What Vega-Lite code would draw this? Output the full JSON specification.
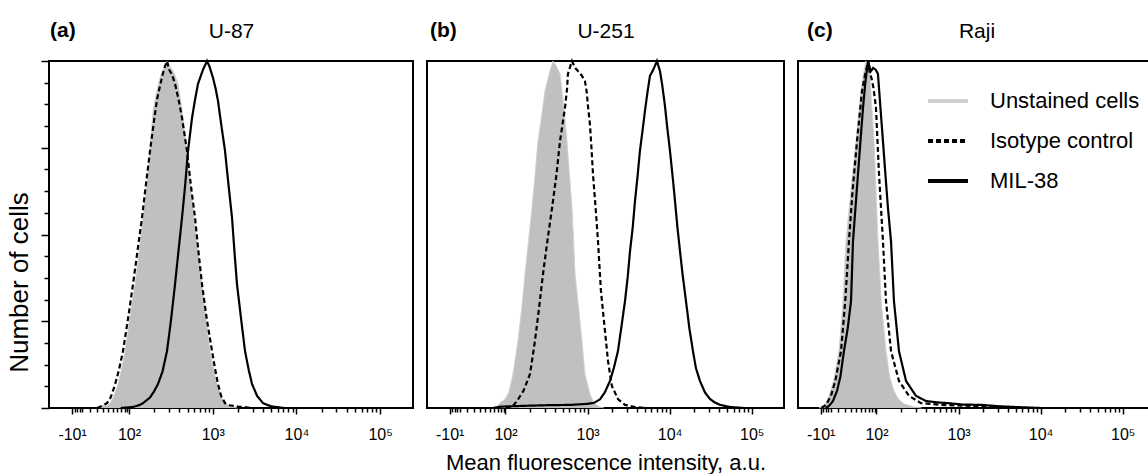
{
  "$schema": "https://vega.github.io/schema/vega-lite/v6.json",
  "background": "white",
  "padding": {"left": 5, "top": 19, "right": 0, "bottom": 0},
  "spacing": 14,
  "bounds": "flush",
  "config": {
    "font": "Liberation Sans",
    "view": {"stroke": "black", "strokeWidth": 2},
    "axis": {"grid": false, "domain": false, "labelFont": "Liberation Sans", "titleFont": "Liberation Sans", "labelColor": "black", "titleColor": "black", "tickColor": "black", "titleFontWeight": "normal"},
    "title": {"color": "black", "font": "Liberation Sans"}
  },
  "datasets": {
    "hist": [
      {"panel":"U-87","series":"Unstained cells","x":1.63,"y":0},
      {"panel":"U-87","series":"Unstained cells","x":1.654,"y":0.4},
      {"panel":"U-87","series":"Unstained cells","x":1.70,"y":0.9},
      {"panel":"U-87","series":"Unstained cells","x":1.74,"y":0.7},
      {"panel":"U-87","series":"Unstained cells","x":1.773,"y":1.3},
      {"panel":"U-87","series":"Unstained cells","x":1.82,"y":3.5},
      {"panel":"U-87","series":"Unstained cells","x":1.869,"y":6.9},
      {"panel":"U-87","series":"Unstained cells","x":1.91,"y":11},
      {"panel":"U-87","series":"Unstained cells","x":1.952,"y":16.4},
      {"panel":"U-87","series":"Unstained cells","x":2.01,"y":26},
      {"panel":"U-87","series":"Unstained cells","x":2.072,"y":35.7},
      {"panel":"U-87","series":"Unstained cells","x":2.12,"y":45},
      {"panel":"U-87","series":"Unstained cells","x":2.167,"y":54.8},
      {"panel":"U-87","series":"Unstained cells","x":2.21,"y":64},
      {"panel":"U-87","series":"Unstained cells","x":2.251,"y":74.1},
      {"panel":"U-87","series":"Unstained cells","x":2.287,"y":85.6},
      {"panel":"U-87","series":"Unstained cells","x":2.33,"y":91},
      {"panel":"U-87","series":"Unstained cells","x":2.37,"y":95.1},
      {"panel":"U-87","series":"Unstained cells","x":2.41,"y":97.5},
      {"panel":"U-87","series":"Unstained cells","x":2.454,"y":100},
      {"panel":"U-87","series":"Unstained cells","x":2.50,"y":98},
      {"panel":"U-87","series":"Unstained cells","x":2.54,"y":96.5},
      {"panel":"U-87","series":"Unstained cells","x":2.585,"y":93.4},
      {"panel":"U-87","series":"Unstained cells","x":2.645,"y":83.6},
      {"panel":"U-87","series":"Unstained cells","x":2.693,"y":74.1},
      {"panel":"U-87","series":"Unstained cells","x":2.735,"y":64},
      {"panel":"U-87","series":"Unstained cells","x":2.777,"y":54.8},
      {"panel":"U-87","series":"Unstained cells","x":2.825,"y":45},
      {"panel":"U-87","series":"Unstained cells","x":2.872,"y":35.7},
      {"panel":"U-87","series":"Unstained cells","x":2.92,"y":25.5},
      {"panel":"U-87","series":"Unstained cells","x":2.968,"y":16.4},
      {"panel":"U-87","series":"Unstained cells","x":3.01,"y":11},
      {"panel":"U-87","series":"Unstained cells","x":3.051,"y":6.9},
      {"panel":"U-87","series":"Unstained cells","x":3.10,"y":3.5},
      {"panel":"U-87","series":"Unstained cells","x":3.147,"y":1.4},
      {"panel":"U-87","series":"Unstained cells","x":3.21,"y":0.4},
      {"panel":"U-87","series":"Unstained cells","x":3.30,"y":0},

      {"panel":"U-87","series":"Isotype control","x":1.62,"y":0},
      {"panel":"U-87","series":"Isotype control","x":1.677,"y":0.6},
      {"panel":"U-87","series":"Isotype control","x":1.737,"y":1.4},
      {"panel":"U-87","series":"Isotype control","x":1.78,"y":3},
      {"panel":"U-87","series":"Isotype control","x":1.83,"y":6.5},
      {"panel":"U-87","series":"Isotype control","x":1.88,"y":11},
      {"panel":"U-87","series":"Isotype control","x":1.928,"y":16.4},
      {"panel":"U-87","series":"Isotype control","x":1.99,"y":26},
      {"panel":"U-87","series":"Isotype control","x":2.048,"y":35.7},
      {"panel":"U-87","series":"Isotype control","x":2.10,"y":45},
      {"panel":"U-87","series":"Isotype control","x":2.155,"y":54.8},
      {"panel":"U-87","series":"Isotype control","x":2.20,"y":64},
      {"panel":"U-87","series":"Isotype control","x":2.251,"y":74.1},
      {"panel":"U-87","series":"Isotype control","x":2.30,"y":83},
      {"panel":"U-87","series":"Isotype control","x":2.335,"y":89},
      {"panel":"U-87","series":"Isotype control","x":2.40,"y":96},
      {"panel":"U-87","series":"Isotype control","x":2.43,"y":98.5},
      {"panel":"U-87","series":"Isotype control","x":2.454,"y":100},
      {"panel":"U-87","series":"Isotype control","x":2.48,"y":97.5},
      {"panel":"U-87","series":"Isotype control","x":2.515,"y":96},
      {"panel":"U-87","series":"Isotype control","x":2.55,"y":93.4},
      {"panel":"U-87","series":"Isotype control","x":2.60,"y":88},
      {"panel":"U-87","series":"Isotype control","x":2.633,"y":83.6},
      {"panel":"U-87","series":"Isotype control","x":2.693,"y":74.1},
      {"panel":"U-87","series":"Isotype control","x":2.74,"y":64},
      {"panel":"U-87","series":"Isotype control","x":2.789,"y":54.8},
      {"panel":"U-87","series":"Isotype control","x":2.83,"y":45},
      {"panel":"U-87","series":"Isotype control","x":2.872,"y":35.7},
      {"panel":"U-87","series":"Isotype control","x":2.93,"y":25.5},
      {"panel":"U-87","series":"Isotype control","x":2.992,"y":16.4},
      {"panel":"U-87","series":"Isotype control","x":3.03,"y":11},
      {"panel":"U-87","series":"Isotype control","x":3.063,"y":6.9},
      {"panel":"U-87","series":"Isotype control","x":3.10,"y":3.5},
      {"panel":"U-87","series":"Isotype control","x":3.147,"y":1.4},
      {"panel":"U-87","series":"Isotype control","x":3.20,"y":0.8},
      {"panel":"U-87","series":"Isotype control","x":3.25,"y":0.6},
      {"panel":"U-87","series":"Isotype control","x":3.30,"y":0.4},
      {"panel":"U-87","series":"Isotype control","x":3.36,"y":0.3},
      {"panel":"U-87","series":"Isotype control","x":3.45,"y":0},

      {"panel":"U-87","series":"MIL-38","x":1.90,"y":0},
      {"panel":"U-87","series":"MIL-38","x":2.05,"y":0.3},
      {"panel":"U-87","series":"MIL-38","x":2.12,"y":0.8},
      {"panel":"U-87","series":"MIL-38","x":2.167,"y":1.4},
      {"panel":"U-87","series":"MIL-38","x":2.25,"y":3},
      {"panel":"U-87","series":"MIL-38","x":2.30,"y":4.8},
      {"panel":"U-87","series":"MIL-38","x":2.346,"y":6.9},
      {"panel":"U-87","series":"MIL-38","x":2.40,"y":10.5},
      {"panel":"U-87","series":"MIL-38","x":2.454,"y":16.4},
      {"panel":"U-87","series":"MIL-38","x":2.50,"y":25},
      {"panel":"U-87","series":"MIL-38","x":2.55,"y":35.7},
      {"panel":"U-87","series":"MIL-38","x":2.59,"y":45},
      {"panel":"U-87","series":"MIL-38","x":2.633,"y":54.8},
      {"panel":"U-87","series":"MIL-38","x":2.67,"y":64},
      {"panel":"U-87","series":"MIL-38","x":2.705,"y":74.1},
      {"panel":"U-87","series":"MIL-38","x":2.753,"y":83.6},
      {"panel":"U-87","series":"MIL-38","x":2.79,"y":89},
      {"panel":"U-87","series":"MIL-38","x":2.824,"y":93.4},
      {"panel":"U-87","series":"MIL-38","x":2.884,"y":97.5},
      {"panel":"U-87","series":"MIL-38","x":2.932,"y":100},
      {"panel":"U-87","series":"MIL-38","x":2.96,"y":98.5},
      {"panel":"U-87","series":"MIL-38","x":3.004,"y":95.1},
      {"panel":"U-87","series":"MIL-38","x":3.035,"y":92},
      {"panel":"U-87","series":"MIL-38","x":3.063,"y":88.5},
      {"panel":"U-87","series":"MIL-38","x":3.10,"y":82},
      {"panel":"U-87","series":"MIL-38","x":3.147,"y":74.1},
      {"panel":"U-87","series":"MIL-38","x":3.19,"y":64},
      {"panel":"U-87","series":"MIL-38","x":3.231,"y":54.8},
      {"panel":"U-87","series":"MIL-38","x":3.26,"y":45},
      {"panel":"U-87","series":"MIL-38","x":3.29,"y":35.7},
      {"panel":"U-87","series":"MIL-38","x":3.34,"y":25.5},
      {"panel":"U-87","series":"MIL-38","x":3.386,"y":16.4},
      {"panel":"U-87","series":"MIL-38","x":3.43,"y":11},
      {"panel":"U-87","series":"MIL-38","x":3.47,"y":6.9},
      {"panel":"U-87","series":"MIL-38","x":3.53,"y":3.5},
      {"panel":"U-87","series":"MIL-38","x":3.601,"y":1.4},
      {"panel":"U-87","series":"MIL-38","x":3.66,"y":0.8},
      {"panel":"U-87","series":"MIL-38","x":3.72,"y":0.4},
      {"panel":"U-87","series":"MIL-38","x":3.85,"y":0},

      {"panel":"U-251","series":"Unstained cells","x":1.85,"y":0},
      {"panel":"U-251","series":"Unstained cells","x":1.897,"y":0.5},
      {"panel":"U-251","series":"Unstained cells","x":1.933,"y":1.5},
      {"panel":"U-251","series":"Unstained cells","x":1.994,"y":2.5},
      {"panel":"U-251","series":"Unstained cells","x":2.04,"y":4.5},
      {"panel":"U-251","series":"Unstained cells","x":2.092,"y":9.8},
      {"panel":"U-251","series":"Unstained cells","x":2.152,"y":19.3},
      {"panel":"U-251","series":"Unstained cells","x":2.20,"y":29},
      {"panel":"U-251","series":"Unstained cells","x":2.238,"y":38.6},
      {"panel":"U-251","series":"Unstained cells","x":2.28,"y":48},
      {"panel":"U-251","series":"Unstained cells","x":2.323,"y":57.6},
      {"panel":"U-251","series":"Unstained cells","x":2.36,"y":67},
      {"panel":"U-251","series":"Unstained cells","x":2.396,"y":76.9},
      {"panel":"U-251","series":"Unstained cells","x":2.44,"y":84},
      {"panel":"U-251","series":"Unstained cells","x":2.481,"y":91.4},
      {"panel":"U-251","series":"Unstained cells","x":2.542,"y":97.1},
      {"panel":"U-251","series":"Unstained cells","x":2.579,"y":100},
      {"panel":"U-251","series":"Unstained cells","x":2.62,"y":98.5},
      {"panel":"U-251","series":"Unstained cells","x":2.664,"y":96.3},
      {"panel":"U-251","series":"Unstained cells","x":2.71,"y":87},
      {"panel":"U-251","series":"Unstained cells","x":2.749,"y":76.9},
      {"panel":"U-251","series":"Unstained cells","x":2.78,"y":67},
      {"panel":"U-251","series":"Unstained cells","x":2.81,"y":57.6},
      {"panel":"U-251","series":"Unstained cells","x":2.83,"y":48},
      {"panel":"U-251","series":"Unstained cells","x":2.847,"y":38.6},
      {"panel":"U-251","series":"Unstained cells","x":2.89,"y":29},
      {"panel":"U-251","series":"Unstained cells","x":2.932,"y":19.3},
      {"panel":"U-251","series":"Unstained cells","x":2.968,"y":9.8},
      {"panel":"U-251","series":"Unstained cells","x":3.029,"y":4.0},
      {"panel":"U-251","series":"Unstained cells","x":3.078,"y":1.4},
      {"panel":"U-251","series":"Unstained cells","x":3.151,"y":0.3},
      {"panel":"U-251","series":"Unstained cells","x":3.20,"y":0},

      {"panel":"U-251","series":"Isotype control","x":2.0,"y":0},
      {"panel":"U-251","series":"Isotype control","x":2.06,"y":0.3},
      {"panel":"U-251","series":"Isotype control","x":2.092,"y":0.6},
      {"panel":"U-251","series":"Isotype control","x":2.14,"y":2.0},
      {"panel":"U-251","series":"Isotype control","x":2.22,"y":5},
      {"panel":"U-251","series":"Isotype control","x":2.299,"y":9.8},
      {"panel":"U-251","series":"Isotype control","x":2.359,"y":19.3},
      {"panel":"U-251","series":"Isotype control","x":2.41,"y":29},
      {"panel":"U-251","series":"Isotype control","x":2.457,"y":38.6},
      {"panel":"U-251","series":"Isotype control","x":2.51,"y":48},
      {"panel":"U-251","series":"Isotype control","x":2.567,"y":57.6},
      {"panel":"U-251","series":"Isotype control","x":2.62,"y":67},
      {"panel":"U-251","series":"Isotype control","x":2.664,"y":76.9},
      {"panel":"U-251","series":"Isotype control","x":2.725,"y":86.5},
      {"panel":"U-251","series":"Isotype control","x":2.75,"y":92},
      {"panel":"U-251","series":"Isotype control","x":2.761,"y":96.3},
      {"panel":"U-251","series":"Isotype control","x":2.79,"y":98.5},
      {"panel":"U-251","series":"Isotype control","x":2.81,"y":100},
      {"panel":"U-251","series":"Isotype control","x":2.85,"y":98},
      {"panel":"U-251","series":"Isotype control","x":2.883,"y":97.1},
      {"panel":"U-251","series":"Isotype control","x":2.932,"y":95.7},
      {"panel":"U-251","series":"Isotype control","x":2.968,"y":94.2},
      {"panel":"U-251","series":"Isotype control","x":2.99,"y":91},
      {"panel":"U-251","series":"Isotype control","x":3.005,"y":87.0},
      {"panel":"U-251","series":"Isotype control","x":3.029,"y":81.8},
      {"panel":"U-251","series":"Isotype control","x":3.05,"y":74},
      {"panel":"U-251","series":"Isotype control","x":3.066,"y":67.4},
      {"panel":"U-251","series":"Isotype control","x":3.10,"y":57},
      {"panel":"U-251","series":"Isotype control","x":3.127,"y":48.1},
      {"panel":"U-251","series":"Isotype control","x":3.163,"y":33.7},
      {"panel":"U-251","series":"Isotype control","x":3.212,"y":22.2},
      {"panel":"U-251","series":"Isotype control","x":3.249,"y":13.5},
      {"panel":"U-251","series":"Isotype control","x":3.297,"y":6.3},
      {"panel":"U-251","series":"Isotype control","x":3.37,"y":2.6},
      {"panel":"U-251","series":"Isotype control","x":3.456,"y":0.9},
      {"panel":"U-251","series":"Isotype control","x":3.578,"y":0.3},
      {"panel":"U-251","series":"Isotype control","x":3.70,"y":0},

      {"panel":"U-251","series":"MIL-38","x":1.85,"y":0},
      {"panel":"U-251","series":"MIL-38","x":1.95,"y":0.4},
      {"panel":"U-251","series":"MIL-38","x":2.2,"y":0.6},
      {"panel":"U-251","series":"MIL-38","x":2.5,"y":0.8},
      {"panel":"U-251","series":"MIL-38","x":2.8,"y":0.9},
      {"panel":"U-251","series":"MIL-38","x":3.0,"y":1.2},
      {"panel":"U-251","series":"MIL-38","x":3.08,"y":1.5},
      {"panel":"U-251","series":"MIL-38","x":3.151,"y":2.5},
      {"panel":"U-251","series":"MIL-38","x":3.21,"y":4.5},
      {"panel":"U-251","series":"MIL-38","x":3.273,"y":7.8},
      {"panel":"U-251","series":"MIL-38","x":3.32,"y":11.5},
      {"panel":"U-251","series":"MIL-38","x":3.37,"y":16.4},
      {"panel":"U-251","series":"MIL-38","x":3.41,"y":23},
      {"panel":"U-251","series":"MIL-38","x":3.456,"y":30.8},
      {"panel":"U-251","series":"MIL-38","x":3.49,"y":38},
      {"panel":"U-251","series":"MIL-38","x":3.517,"y":45.2},
      {"panel":"U-251","series":"MIL-38","x":3.55,"y":52},
      {"panel":"U-251","series":"MIL-38","x":3.578,"y":59.7},
      {"panel":"U-251","series":"MIL-38","x":3.61,"y":67},
      {"panel":"U-251","series":"MIL-38","x":3.638,"y":74.1},
      {"panel":"U-251","series":"MIL-38","x":3.67,"y":80},
      {"panel":"U-251","series":"MIL-38","x":3.699,"y":85.6},
      {"panel":"U-251","series":"MIL-38","x":3.73,"y":91},
      {"panel":"U-251","series":"MIL-38","x":3.76,"y":95.7},
      {"panel":"U-251","series":"MIL-38","x":3.80,"y":97.5},
      {"panel":"U-251","series":"MIL-38","x":3.821,"y":98.6},
      {"panel":"U-251","series":"MIL-38","x":3.845,"y":100},
      {"panel":"U-251","series":"MIL-38","x":3.882,"y":97.1},
      {"panel":"U-251","series":"MIL-38","x":3.91,"y":93},
      {"panel":"U-251","series":"MIL-38","x":3.943,"y":87.0},
      {"panel":"U-251","series":"MIL-38","x":3.97,"y":81},
      {"panel":"U-251","series":"MIL-38","x":4.004,"y":74.1},
      {"panel":"U-251","series":"MIL-38","x":4.035,"y":67},
      {"panel":"U-251","series":"MIL-38","x":4.065,"y":59.7},
      {"panel":"U-251","series":"MIL-38","x":4.095,"y":52},
      {"panel":"U-251","series":"MIL-38","x":4.126,"y":45.2},
      {"panel":"U-251","series":"MIL-38","x":4.16,"y":38},
      {"panel":"U-251","series":"MIL-38","x":4.199,"y":30.8},
      {"panel":"U-251","series":"MIL-38","x":4.24,"y":23},
      {"panel":"U-251","series":"MIL-38","x":4.284,"y":16.4},
      {"panel":"U-251","series":"MIL-38","x":4.32,"y":11.5},
      {"panel":"U-251","series":"MIL-38","x":4.369,"y":7.8},
      {"panel":"U-251","series":"MIL-38","x":4.43,"y":4.5},
      {"panel":"U-251","series":"MIL-38","x":4.491,"y":2.6},
      {"panel":"U-251","series":"MIL-38","x":4.55,"y":1.6},
      {"panel":"U-251","series":"MIL-38","x":4.613,"y":0.9},
      {"panel":"U-251","series":"MIL-38","x":4.735,"y":0.3},
      {"panel":"U-251","series":"MIL-38","x":4.90,"y":0},

      {"panel":"Raji","series":"Unstained cells","x":1.30,"y":0},
      {"panel":"Raji","series":"Unstained cells","x":1.349,"y":0.6},
      {"panel":"Raji","series":"Unstained cells","x":1.385,"y":1.5},
      {"panel":"Raji","series":"Unstained cells","x":1.422,"y":3.5},
      {"panel":"Raji","series":"Unstained cells","x":1.48,"y":8},
      {"panel":"Raji","series":"Unstained cells","x":1.543,"y":16.4},
      {"panel":"Raji","series":"Unstained cells","x":1.59,"y":30},
      {"panel":"Raji","series":"Unstained cells","x":1.629,"y":48.1},
      {"panel":"Raji","series":"Unstained cells","x":1.69,"y":63},
      {"panel":"Raji","series":"Unstained cells","x":1.751,"y":76.9},
      {"panel":"Raji","series":"Unstained cells","x":1.811,"y":91.4},
      {"panel":"Raji","series":"Unstained cells","x":1.84,"y":96},
      {"panel":"Raji","series":"Unstained cells","x":1.872,"y":100},
      {"panel":"Raji","series":"Unstained cells","x":1.90,"y":98},
      {"panel":"Raji","series":"Unstained cells","x":1.921,"y":96},
      {"panel":"Raji","series":"Unstained cells","x":1.945,"y":86},
      {"panel":"Raji","series":"Unstained cells","x":1.97,"y":76.9},
      {"panel":"Raji","series":"Unstained cells","x":1.995,"y":62},
      {"panel":"Raji","series":"Unstained cells","x":2.018,"y":48.1},
      {"panel":"Raji","series":"Unstained cells","x":2.06,"y":30},
      {"panel":"Raji","series":"Unstained cells","x":2.116,"y":16.4},
      {"panel":"Raji","series":"Unstained cells","x":2.16,"y":9},
      {"panel":"Raji","series":"Unstained cells","x":2.213,"y":4.9},
      {"panel":"Raji","series":"Unstained cells","x":2.27,"y":2.5},
      {"panel":"Raji","series":"Unstained cells","x":2.335,"y":1.2},
      {"panel":"Raji","series":"Unstained cells","x":2.457,"y":0.3},
      {"panel":"Raji","series":"Unstained cells","x":2.55,"y":0},

      {"panel":"Raji","series":"Isotype control","x":1.33,"y":0},
      {"panel":"Raji","series":"Isotype control","x":1.385,"y":0.9},
      {"panel":"Raji","series":"Isotype control","x":1.446,"y":3.5},
      {"panel":"Raji","series":"Isotype control","x":1.50,"y":8},
      {"panel":"Raji","series":"Isotype control","x":1.568,"y":16.4},
      {"panel":"Raji","series":"Isotype control","x":1.62,"y":31},
      {"panel":"Raji","series":"Isotype control","x":1.665,"y":48.1},
      {"panel":"Raji","series":"Isotype control","x":1.71,"y":63},
      {"panel":"Raji","series":"Isotype control","x":1.763,"y":76.9},
      {"panel":"Raji","series":"Isotype control","x":1.824,"y":91.4},
      {"panel":"Raji","series":"Isotype control","x":1.86,"y":96},
      {"panel":"Raji","series":"Isotype control","x":1.88,"y":98},
      {"panel":"Raji","series":"Isotype control","x":1.897,"y":100},
      {"panel":"Raji","series":"Isotype control","x":1.915,"y":97},
      {"panel":"Raji","series":"Isotype control","x":1.94,"y":95},
      {"panel":"Raji","series":"Isotype control","x":1.965,"y":92},
      {"panel":"Raji","series":"Isotype control","x":1.994,"y":86.5},
      {"panel":"Raji","series":"Isotype control","x":2.031,"y":67.4},
      {"panel":"Raji","series":"Isotype control","x":2.079,"y":48.1},
      {"panel":"Raji","series":"Isotype control","x":2.116,"y":30.8},
      {"panel":"Raji","series":"Isotype control","x":2.177,"y":16.4},
      {"panel":"Raji","series":"Isotype control","x":2.274,"y":7.8},
      {"panel":"Raji","series":"Isotype control","x":2.396,"y":3.5},
      {"panel":"Raji","series":"Isotype control","x":2.542,"y":1.4},
      {"panel":"Raji","series":"Isotype control","x":2.786,"y":0.9},
      {"panel":"Raji","series":"Isotype control","x":3.15,"y":0.6},
      {"panel":"Raji","series":"Isotype control","x":3.52,"y":0.3},
      {"panel":"Raji","series":"Isotype control","x":3.80,"y":0},

      {"panel":"Raji","series":"MIL-38","x":1.38,"y":0},
      {"panel":"Raji","series":"MIL-38","x":1.422,"y":0.6},
      {"panel":"Raji","series":"MIL-38","x":1.47,"y":2},
      {"panel":"Raji","series":"MIL-38","x":1.519,"y":4.9},
      {"panel":"Raji","series":"MIL-38","x":1.56,"y":9},
      {"panel":"Raji","series":"MIL-38","x":1.604,"y":16.4},
      {"panel":"Raji","series":"MIL-38","x":1.65,"y":23},
      {"panel":"Raji","series":"MIL-38","x":1.69,"y":30.8},
      {"panel":"Raji","series":"MIL-38","x":1.714,"y":48.1},
      {"panel":"Raji","series":"MIL-38","x":1.745,"y":58},
      {"panel":"Raji","series":"MIL-38","x":1.775,"y":67.4},
      {"panel":"Raji","series":"MIL-38","x":1.805,"y":77},
      {"panel":"Raji","series":"MIL-38","x":1.836,"y":86.5},
      {"panel":"Raji","series":"MIL-38","x":1.865,"y":94},
      {"panel":"Raji","series":"MIL-38","x":1.897,"y":100},
      {"panel":"Raji","series":"MIL-38","x":1.93,"y":97},
      {"panel":"Raji","series":"MIL-38","x":1.96,"y":98},
      {"panel":"Raji","series":"MIL-38","x":1.99,"y":97.5},
      {"panel":"Raji","series":"MIL-38","x":2.018,"y":96.3},
      {"panel":"Raji","series":"MIL-38","x":2.05,"y":86},
      {"panel":"Raji","series":"MIL-38","x":2.079,"y":76.9},
      {"panel":"Raji","series":"MIL-38","x":2.11,"y":67},
      {"panel":"Raji","series":"MIL-38","x":2.14,"y":57.6},
      {"panel":"Raji","series":"MIL-38","x":2.177,"y":48.1},
      {"panel":"Raji","series":"MIL-38","x":2.213,"y":30.8},
      {"panel":"Raji","series":"MIL-38","x":2.274,"y":16.4},
      {"panel":"Raji","series":"MIL-38","x":2.36,"y":7.8},
      {"panel":"Raji","series":"MIL-38","x":2.481,"y":3.5},
      {"panel":"Raji","series":"MIL-38","x":2.603,"y":2.0},
      {"panel":"Raji","series":"MIL-38","x":2.75,"y":1.6},
      {"panel":"Raji","series":"MIL-38","x":2.871,"y":1.4},
      {"panel":"Raji","series":"MIL-38","x":3.05,"y":1.0},
      {"panel":"Raji","series":"MIL-38","x":3.273,"y":0.9},
      {"panel":"Raji","series":"MIL-38","x":3.5,"y":0.5},
      {"panel":"Raji","series":"MIL-38","x":3.675,"y":0.3},
      {"panel":"Raji","series":"MIL-38","x":4.0,"y":0}
    ]
  },
  "hconcat": [
    {
      "width": 364, "height": 347,
      "title": {"text": "(a)", "anchor": "start", "frame": "group", "fontWeight": "bold", "fontSize": 21, "baseline": "alphabetic", "offset": -38, "dx": 1},
      "layer": [
        {
          "data": {"name": "hist"},
          "transform": [{"filter": "datum.panel == 'U-87' && datum.series == 'Unstained cells'"}],
          "mark": {"type": "area", "color": "#c0c0c0", "opacity": 1},
          "encoding": {
            "x": {"field": "x", "type": "quantitative", "scale": {"domain": [1.044, 5.393], "nice": false, "zero": false},
                  "axis": {"title": null, "values": [1.32,1.35,1.38,1.41,1.44,1.53,1.62,1.69,1.75,1.81,1.86,1.91,1.95,1.98,2,2.301,2.477,2.602,2.699,2.778,2.845,2.903,2.954,3,3.301,3.477,3.602,3.699,3.778,3.845,3.903,3.954,4,4.301,4.477,4.602,4.699,4.778,4.845,4.903,4.954,5],
                           "labelExpr": "datum.value == 1.32 ? '-10¹' : datum.value == 2 ? '10²' : datum.value == 3 ? '10³' : datum.value == 4 ? '10⁴' : datum.value == 5 ? '10⁵' : ''",
                           "labelFontSize": 16, "labelPadding": 12, "labelOverlap": false, "labelFlush": false,
                           "tickSize": {"condition": {"test": "indexof([1.32,2,3,4,5], datum.value) >= 0", "value": 6}, "value": 4}, "tickWidth": 1.5}},
            "y": {"field": "y", "type": "quantitative", "scale": {"domain": [0, 100], "nice": false},
                  "axis": {"values": [0,6.25,12.5,18.75,25,31.25,37.5,43.75,50,56.25,62.5,68.75,75,81.25,87.5,93.75,100], "labels": false, "title": "Number of cells", "titleFontSize": 26, "titlePadding": 8, "titleY": 221, "titleAlign": "center",
                           "tickSize": {"condition": {"test": "datum.value % 25 == 0", "value": 8}, "value": 5}, "tickWidth": 1.5}}
          }
        },
        {
          "data": {"name": "hist"},
          "transform": [{"filter": "datum.panel == 'U-87' && datum.series == 'Unstained cells'"}],
          "mark": {"type": "line", "strokeWidth": 1},
          "encoding": {
            "x": {"field": "x", "type": "quantitative", "scale": {"domain": [1.044, 5.393], "nice": false, "zero": false},
                  "axis": {"orient": "top", "title": "U-87", "titleFontSize": 21, "titlePadding": 24, "titleBaseline": "alphabetic", "ticks": false, "labels": false, "domain": false}},
            "y": {"field": "y", "type": "quantitative", "scale": {"domain": [0, 100], "nice": false},
                  "axis": {"values": [0,6.25,12.5,18.75,25,31.25,37.5,43.75,50,56.25,62.5,68.75,75,81.25,87.5,93.75,100], "labels": false, "title": "Number of cells", "titleFontSize": 26, "titlePadding": 8, "titleY": 221, "titleAlign": "center",
                           "tickSize": {"condition": {"test": "datum.value % 25 == 0", "value": 8}, "value": 5}, "tickWidth": 1.5}},
            "color": {"field": "series", "type": "nominal", "scale": {"domain": ["Unstained cells","Isotype control","MIL-38"], "range": ["#d0d0d0","#000000","#000000"]}, "legend": null},
            "strokeDash": {"field": "series", "type": "nominal", "scale": {"domain": ["Unstained cells","Isotype control","MIL-38"], "range": [[1,0],[5,3],[1,0]]}, "legend": null}
          }
        },
        {
          "data": {"name": "hist"},
          "transform": [{"filter": "datum.panel == 'U-87' && datum.series != 'Unstained cells'"}],
          "mark": {"type": "line", "strokeWidth": 2.2},
          "encoding": {
            "x": {"field": "x", "type": "quantitative", "scale": {"domain": [1.044, 5.393], "nice": false, "zero": false}, "axis": null},
            "y": {"field": "y", "type": "quantitative", "scale": {"domain": [0, 100], "nice": false},
                  "axis": {"values": [0,6.25,12.5,18.75,25,31.25,37.5,43.75,50,56.25,62.5,68.75,75,81.25,87.5,93.75,100], "labels": false, "title": "Number of cells", "titleFontSize": 26, "titlePadding": 8, "titleY": 221, "titleAlign": "center",
                           "tickSize": {"condition": {"test": "datum.value % 25 == 0", "value": 8}, "value": 5}, "tickWidth": 1.5}},
            "color": {"field": "series", "type": "nominal", "scale": {"domain": ["Unstained cells","Isotype control","MIL-38"], "range": ["#d0d0d0","#000000","#000000"]}, "legend": null},
            "strokeDash": {"field": "series", "type": "nominal", "scale": {"domain": ["Unstained cells","Isotype control","MIL-38"], "range": [[1,0],[5,3],[1,0]]}, "legend": null}
          }
        }
      ],
      "resolve": {"axis": {"x": "independent"}}
    },
    {
      "width": 357, "height": 347,
      "title": {"text": "(b)", "anchor": "start", "frame": "group", "fontWeight": "bold", "fontSize": 21, "baseline": "alphabetic", "offset": -38, "dx": 3},
      "layer": [
        {
          "data": {"name": "hist"},
          "transform": [{"filter": "datum.panel == 'U-251' && datum.series == 'Unstained cells'"}],
          "mark": {"type": "area", "color": "#c0c0c0", "opacity": 1},
          "encoding": {
            "x": {"field": "x", "type": "quantitative", "scale": {"domain": [1.044, 5.393], "nice": false, "zero": false},
                  "axis": {"title": "Mean fluorescence intensity, a.u.", "titleFontSize": 22, "titlePadding": 10, "values": [1.32,1.35,1.38,1.41,1.44,1.53,1.62,1.69,1.75,1.81,1.86,1.91,1.95,1.98,2,2.301,2.477,2.602,2.699,2.778,2.845,2.903,2.954,3,3.301,3.477,3.602,3.699,3.778,3.845,3.903,3.954,4,4.301,4.477,4.602,4.699,4.778,4.845,4.903,4.954,5],
                           "labelExpr": "datum.value == 1.32 ? '-10¹' : datum.value == 2 ? '10²' : datum.value == 3 ? '10³' : datum.value == 4 ? '10⁴' : datum.value == 5 ? '10⁵' : ''",
                           "labelFontSize": 16, "labelPadding": 12, "labelOverlap": false, "labelFlush": false,
                           "tickSize": {"condition": {"test": "indexof([1.32,2,3,4,5], datum.value) >= 0", "value": 6}, "value": 4}, "tickWidth": 1.5}},
            "y": {"field": "y", "type": "quantitative", "scale": {"domain": [0, 100], "nice": false}, "axis": null}
          }
        },
        {
          "data": {"name": "hist"},
          "transform": [{"filter": "datum.panel == 'U-251' && datum.series == 'Unstained cells'"}],
          "mark": {"type": "line", "strokeWidth": 1},
          "encoding": {
            "x": {"field": "x", "type": "quantitative", "scale": {"domain": [1.044, 5.393], "nice": false, "zero": false},
                  "axis": {"orient": "top", "title": "U-251", "titleFontSize": 21, "titlePadding": 24, "titleBaseline": "alphabetic", "ticks": false, "labels": false, "domain": false}},
            "y": {"field": "y", "type": "quantitative", "scale": {"domain": [0, 100], "nice": false}, "axis": null},
            "color": {"field": "series", "type": "nominal", "scale": {"domain": ["Unstained cells","Isotype control","MIL-38"], "range": ["#d0d0d0","#000000","#000000"]}, "legend": null},
            "strokeDash": {"field": "series", "type": "nominal", "scale": {"domain": ["Unstained cells","Isotype control","MIL-38"], "range": [[1,0],[5,3],[1,0]]}, "legend": null}
          }
        },
        {
          "data": {"name": "hist"},
          "transform": [{"filter": "datum.panel == 'U-251' && datum.series != 'Unstained cells'"}],
          "mark": {"type": "line", "strokeWidth": 2.2},
          "encoding": {
            "x": {"field": "x", "type": "quantitative", "scale": {"domain": [1.044, 5.393], "nice": false, "zero": false}, "axis": null},
            "y": {"field": "y", "type": "quantitative", "scale": {"domain": [0, 100], "nice": false}, "axis": null},
            "color": {"field": "series", "type": "nominal", "scale": {"domain": ["Unstained cells","Isotype control","MIL-38"], "range": ["#d0d0d0","#000000","#000000"]}, "legend": null},
            "strokeDash": {"field": "series", "type": "nominal", "scale": {"domain": ["Unstained cells","Isotype control","MIL-38"], "range": [[1,0],[5,3],[1,0]]}, "legend": null}
          }
        }
      ],
      "resolve": {"axis": {"x": "independent"}}
    },
    {
      "width": 357, "height": 347,
      "title": {"text": "(c)", "anchor": "start", "frame": "group", "fontWeight": "bold", "fontSize": 21, "baseline": "alphabetic", "offset": -38, "dx": 9},
      "layer": [
        {
          "data": {"name": "hist"},
          "transform": [{"filter": "datum.panel == 'Raji' && datum.series == 'Unstained cells'"}],
          "mark": {"type": "area", "color": "#c0c0c0", "opacity": 1},
          "encoding": {
            "x": {"field": "x", "type": "quantitative", "scale": {"domain": [1.044, 5.393], "nice": false, "zero": false},
                  "axis": {"title": null, "values": [1.32,1.35,1.38,1.41,1.44,1.53,1.62,1.69,1.75,1.81,1.86,1.91,1.95,1.98,2,2.301,2.477,2.602,2.699,2.778,2.845,2.903,2.954,3,3.301,3.477,3.602,3.699,3.778,3.845,3.903,3.954,4,4.301,4.477,4.602,4.699,4.778,4.845,4.903,4.954,5],
                           "labelExpr": "datum.value == 1.32 ? '-10¹' : datum.value == 2 ? '10²' : datum.value == 3 ? '10³' : datum.value == 4 ? '10⁴' : datum.value == 5 ? '10⁵' : ''",
                           "labelFontSize": 16, "labelPadding": 12, "labelOverlap": false, "labelFlush": false,
                           "tickSize": {"condition": {"test": "indexof([1.32,2,3,4,5], datum.value) >= 0", "value": 6}, "value": 4}, "tickWidth": 1.5}},
            "y": {"field": "y", "type": "quantitative", "scale": {"domain": [0, 100], "nice": false}, "axis": null}
          }
        },
        {
          "data": {"name": "hist"},
          "transform": [{"filter": "datum.panel == 'Raji' && datum.series == 'Unstained cells'"}],
          "mark": {"type": "line", "strokeWidth": 1},
          "encoding": {
            "x": {"field": "x", "type": "quantitative", "scale": {"domain": [1.044, 5.393], "nice": false, "zero": false},
                  "axis": {"orient": "top", "title": "Raji", "titleFontSize": 21, "titlePadding": 24, "titleBaseline": "alphabetic", "ticks": false, "labels": false, "domain": false}},
            "y": {"field": "y", "type": "quantitative", "scale": {"domain": [0, 100], "nice": false}, "axis": null},
            "color": {"field": "series", "type": "nominal", "scale": {"domain": ["Unstained cells","Isotype control","MIL-38"], "range": ["#d0d0d0","#000000","#000000"]},
                      "legend": {"title": null, "orient": "none", "legendX": 128, "legendY": 18, "symbolType": "stroke", "symbolSize": 1600, "symbolStrokeWidth": 4, "labelFontSize": 22, "labelFont": "Liberation Sans", "labelColor": "black", "labelOffset": 20, "rowPadding": 7, "padding": 0}},
            "strokeDash": {"field": "series", "type": "nominal", "scale": {"domain": ["Unstained cells","Isotype control","MIL-38"], "range": [[1,0],[5,3],[1,0]]},
                      "legend": {"title": null, "orient": "none", "legendX": 128, "legendY": 18, "symbolType": "stroke", "symbolSize": 1600, "symbolStrokeWidth": 4, "labelFontSize": 22, "labelFont": "Liberation Sans", "labelColor": "black", "labelOffset": 20, "rowPadding": 7, "padding": 0}}
          }
        },
        {
          "data": {"name": "hist"},
          "transform": [{"filter": "datum.panel == 'Raji' && datum.series != 'Unstained cells'"}],
          "mark": {"type": "line", "strokeWidth": 2.2},
          "encoding": {
            "x": {"field": "x", "type": "quantitative", "scale": {"domain": [1.044, 5.393], "nice": false, "zero": false}, "axis": null},
            "y": {"field": "y", "type": "quantitative", "scale": {"domain": [0, 100], "nice": false}, "axis": null},
            "color": {"field": "series", "type": "nominal", "scale": {"domain": ["Unstained cells","Isotype control","MIL-38"], "range": ["#d0d0d0","#000000","#000000"]},
                      "legend": {"title": null, "orient": "none", "legendX": 128, "legendY": 18, "symbolType": "stroke", "symbolSize": 1600, "symbolStrokeWidth": 4, "labelFontSize": 22, "labelFont": "Liberation Sans", "labelColor": "black", "labelOffset": 20, "rowPadding": 7, "padding": 0}},
            "strokeDash": {"field": "series", "type": "nominal", "scale": {"domain": ["Unstained cells","Isotype control","MIL-38"], "range": [[1,0],[5,3],[1,0]]},
                      "legend": {"title": null, "orient": "none", "legendX": 128, "legendY": 18, "symbolType": "stroke", "symbolSize": 1600, "symbolStrokeWidth": 4, "labelFontSize": 22, "labelFont": "Liberation Sans", "labelColor": "black", "labelOffset": 20, "rowPadding": 7, "padding": 0}}
          }
        }
      ],
      "resolve": {"axis": {"x": "independent"}}
    }
  ],
  "resolve": {"scale": {"color": "independent", "strokeDash": "independent"}, "legend": {"color": "independent", "strokeDash": "independent"}}
}
